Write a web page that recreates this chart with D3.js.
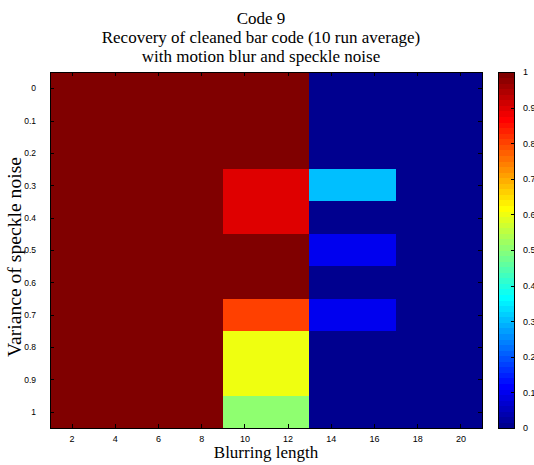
<!DOCTYPE html>
<html>
<head>
<meta charset="utf-8">
<script src="https://cdn.jsdelivr.net/npm/d3@7"></script>
<style>
  html, body { margin: 0; padding: 0; background: #fff; overflow: hidden; }
  svg { display: block; overflow: visible; }
  .tick text { font-family: "Liberation Sans", Arial, sans-serif; font-size: 9px; fill: #000; }
  .ylab .tick text { font-size: 8.5px; }
  .serif { font-family: "Liberation Serif", "Times New Roman", serif; fill: #000; }
</style>
</head>
<body>
<svg id="chart" width="534" height="465"></svg>
<script>
// Blur lengths (columns) and speckle-noise variances (rows)
const blurLengths = [2, 4, 6, 8, 10, 12, 14, 16, 18, 20];
const speckleVariances = [0, 0.1, 0.2, 0.3, 0.4, 0.5, 0.6, 0.7, 0.8, 0.9, 1];

// Recovery rate per speckle variance, one value per blur length
const recovery = [
  [1, 1, 1, 1, 1,   1,   0,   0,   0, 0],
  [1, 1, 1, 1, 1,   1,   0,   0,   0, 0],
  [1, 1, 1, 1, 1,   1,   0,   0,   0, 0],
  [1, 1, 1, 1, 0.9, 0.9, 0.3, 0.3, 0, 0],
  [1, 1, 1, 1, 0.9, 0.9, 0,   0,   0, 0],
  [1, 1, 1, 1, 1,   1,   0.1, 0.1, 0, 0],
  [1, 1, 1, 1, 1,   1,   0,   0,   0, 0],
  [1, 1, 1, 1, 0.8, 0.8, 0.1, 0.1, 0, 0],
  [1, 1, 1, 1, 0.6, 0.6, 0,   0,   0, 0],
  [1, 1, 1, 1, 0.6, 0.6, 0,   0,   0, 0],
  [1, 1, 1, 1, 0.5, 0.5, 0,   0,   0, 0]
];

const xTicks = [2, 4, 6, 8, 10, 12, 14, 16, 18, 20];
const yTicks = [0, 0.1, 0.2, 0.3, 0.4, 0.5, 0.6, 0.7, 0.8, 0.9, 1];
const cbTicks = [0, 0.1, 0.2, 0.3, 0.4, 0.5, 0.6, 0.7, 0.8, 0.9, 1];
const titleLines = ["Code 9", "Recovery of cleaned bar code (10 run average)", "with motion blur and speckle noise"];

// 64-entry "jet" colormap
function jetMap(m) {
  const n = Math.ceil(m / 4);
  const u = [];
  for (let i = 1; i <= n; i++) u.push(i / n);
  for (let i = 1; i < n; i++) u.push(1);
  for (let i = n; i >= 1; i--) u.push(i / n);
  const gOff = Math.ceil(n / 2) - (m % 4 === 1 ? 1 : 0);
  const r = new Array(m).fill(0), g = new Array(m).fill(0), b = new Array(m).fill(0);
  u.forEach((v, k) => {
    const gi = gOff + k;        // 0-based
    const ri = gi + n, bi = gi - n;
    if (gi >= 0 && gi < m) g[gi] = v;
    if (ri >= 0 && ri < m) r[ri] = v;
    if (bi >= 0 && bi < m) b[bi] = v;
  });
  return d3.range(m).map(i => d3.rgb(Math.round(r[i] * 255), Math.round(g[i] * 255), Math.round(b[i] * 255)).toString());
}
const cmap = jetMap(64);
const colorOf = v => cmap[Math.min(63, Math.max(0, Math.floor(v * 64)))];

const svg = d3.select("#chart");
const plot = { left: 50, right: 482, top: 72, bottom: 428 };

const x = d3.scaleLinear().domain([1, 21]).range([plot.left, plot.right]);
const y = d3.scaleBand().domain(speckleVariances).range([plot.top, plot.bottom]).paddingInner(0).paddingOuter(0);
const yLin = d3.scaleLinear().domain([-0.05, 1.05]).range([plot.top, plot.bottom]);

// Heatmap cells
const cells = [];
recovery.forEach((row, ri) => row.forEach((v, ci) => cells.push({ s: speckleVariances[ri], b: blurLengths[ci], v })));
svg.append("g").selectAll("rect").data(cells).join("rect")
  .attr("x", d => x(d.b - 1))
  .attr("y", d => y(d.s))
  .attr("width", d => x(d.b + 1) - x(d.b - 1) + 0.5)
  .attr("height", y.bandwidth() + 0.5)
  .attr("fill", d => colorOf(d.v))
  .attr("shape-rendering", "crispEdges");

// Axes (ticks drawn inward, mirrored on all sides)
const tl = 4;
const xb = svg.append("g").attr("transform", `translate(0,${plot.bottom})`)
  .call(d3.axisBottom(x).tickValues(xTicks).tickSize(-tl).tickPadding(8).tickFormat(d3.format("d")));
const xt = svg.append("g").attr("transform", `translate(0,${plot.top})`)
  .call(d3.axisTop(x).tickValues(xTicks).tickSize(-tl).tickFormat(""));
const yl = svg.append("g").attr("class", "ylab").attr("transform", `translate(${plot.left},0)`)
  .call(d3.axisLeft(yLin).tickValues(yTicks).tickSize(-tl).tickPadding(14).tickFormat(d => d3.format("")(d)));
const yr = svg.append("g").attr("transform", `translate(${plot.right},0)`)
  .call(d3.axisRight(yLin).tickValues(yTicks).tickSize(-tl).tickFormat(""));
[xb, xt, yl, yr].forEach(g => {
  g.select(".domain").remove();
  g.selectAll(".tick line").attr("stroke", "#000").attr("shape-rendering", "crispEdges");
});
xb.selectAll(".tick text").attr("dy", "0.71em");

svg.append("rect")
  .attr("x", plot.left).attr("y", plot.top)
  .attr("width", plot.right - plot.left).attr("height", plot.bottom - plot.top)
  .attr("fill", "none").attr("stroke", "#000").attr("stroke-width", 1)
  .attr("shape-rendering", "crispEdges");

// Colorbar
const cb = { left: 498, right: 514, top: 72, bottom: 428 };
const cbY = d3.scaleLinear().domain([0, 1]).range([cb.bottom, cb.top]);
svg.append("g").selectAll("rect").data(cmap).join("rect")
  .attr("x", cb.left)
  .attr("y", (c, i) => cbY((i + 1) / 64))
  .attr("width", cb.right - cb.left)
  .attr("height", (c, i) => cbY(i / 64) - cbY((i + 1) / 64) + 0.5)
  .attr("fill", c => c)
  .attr("shape-rendering", "crispEdges");
const cbAxis = svg.append("g").attr("transform", `translate(${cb.right},0)`)
  .call(d3.axisRight(cbY).tickValues(cbTicks).tickSize(-3).tickPadding(9).tickFormat(d => d3.format("")(d)));
cbAxis.select(".domain").remove();
cbAxis.selectAll(".tick line").attr("stroke", "#000").attr("shape-rendering", "crispEdges");
svg.append("rect")
  .attr("x", cb.left).attr("y", cb.top)
  .attr("width", cb.right - cb.left).attr("height", cb.bottom - cb.top)
  .attr("fill", "none").attr("stroke", "#000").attr("shape-rendering", "crispEdges");

// Titles and axis labels
svg.append("text").attr("class", "serif")
  .attr("text-anchor", "middle").attr("font-size", 17)
  .selectAll("tspan").data(titleLines).join("tspan")
  .attr("x", 261).attr("y", (d, i) => 24 + i * 19)
  .text(d => d);

svg.append("text").attr("class", "serif")
  .attr("x", 266).attr("y", 458).attr("text-anchor", "middle").attr("font-size", 17)
  .text("Blurring length");

svg.append("text").attr("class", "serif")
  .attr("transform", "translate(21,257) rotate(-90)")
  .attr("text-anchor", "middle").attr("font-size", 18)
  .attr("textLength", 200).attr("lengthAdjust", "spacingAndGlyphs")
  .text("Variance of speckle noise");
</script>
</body>
</html>
